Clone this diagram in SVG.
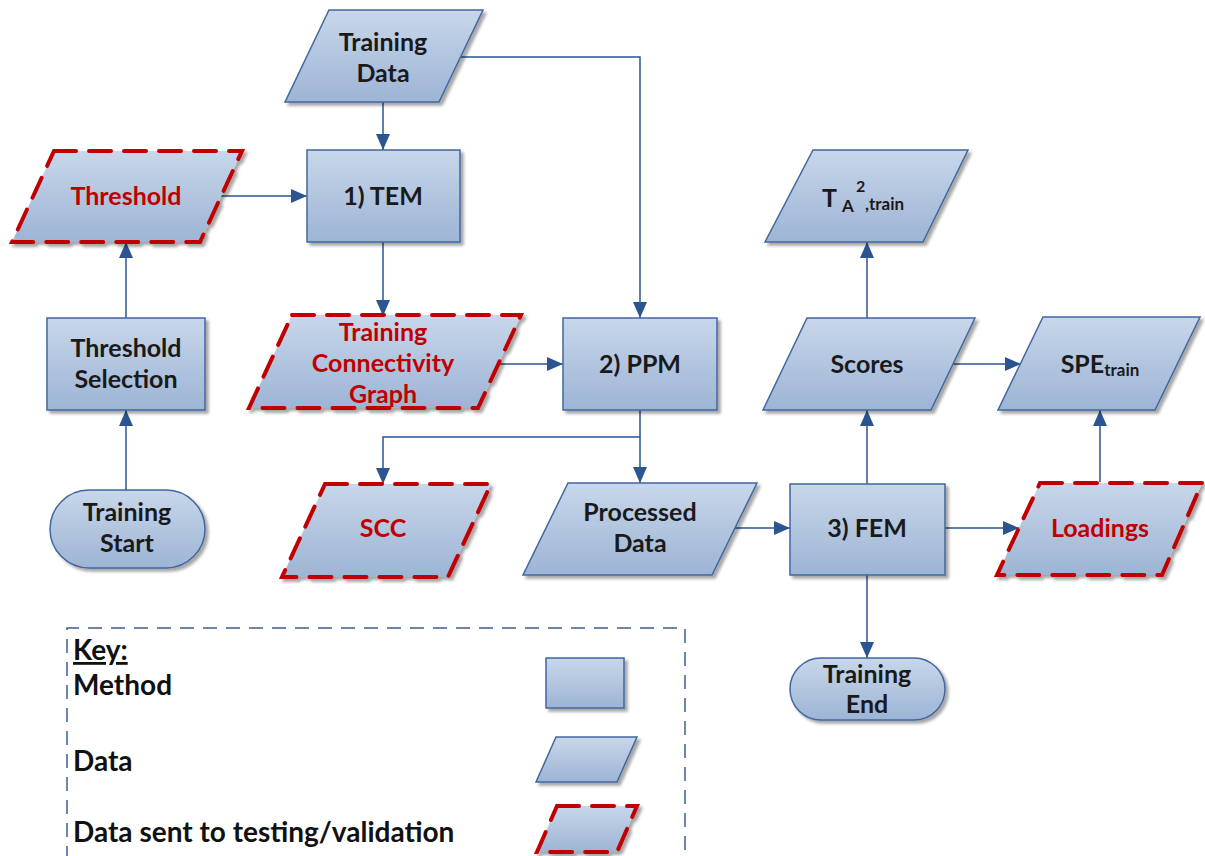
<svg xmlns="http://www.w3.org/2000/svg" width="1205" height="856" viewBox="0 0 1205 856">
  <defs>
    <linearGradient id="fillGrad" x1="0" y1="0" x2="0" y2="1">
      <stop offset="0" stop-color="#c8d7ea"/>
      <stop offset="1" stop-color="#9db4d5"/>
    </linearGradient>
    <filter id="shadow" x="-10%" y="-10%" width="125%" height="130%">
      <feDropShadow dx="3" dy="3" stdDeviation="1.5" flood-color="#000" flood-opacity="0.35"/>
    </filter>
    <marker id="arrow" viewBox="0 0 16 14" refX="16" refY="7" markerWidth="16" markerHeight="14" markerUnits="userSpaceOnUse" orient="auto">
      <path d="M0,0 L16,7 L0,14 Z" fill="#2a5590"/>
    </marker>
  </defs>
  <style>
    .shape { fill: url(#fillGrad); stroke: #41679e; stroke-width: 1.5; filter: url(#shadow); }
    .sent { fill: url(#fillGrad); stroke: #c00000; stroke-width: 4; stroke-dasharray: 22 13; stroke-linecap: round; filter: url(#shadow); }
    .lbl { font-family: Lato, "Liberation Sans", sans-serif; font-weight: bold; font-size: 25px; fill: #1a1a1a; text-anchor: middle; }
    .red { fill: #c00000; }
    .start { text-anchor: start; }
    .key { font-family: Lato, "Liberation Sans", sans-serif; font-weight: bold; font-size: 28px; fill: #111; }
    .conn { fill: none; stroke: #2a5590; stroke-width: 1.5; }
  </style>
  <rect width="1205" height="856" fill="#ffffff"/>

  <!-- connectors -->
  <g id="connectors">
    <path class="conn" d="M383,102 V150" marker-end="url(#arrow)"/>
    <path class="conn" d="M461,57 H640 V318" marker-end="url(#arrow)"/>
    <path class="conn" d="M221,196 H307" marker-end="url(#arrow)"/>
    <path class="conn" d="M126,318 V242" marker-end="url(#arrow)"/>
    <path class="conn" d="M126,490 V410" marker-end="url(#arrow)"/>
    <path class="conn" d="M383,242 V316" marker-end="url(#arrow)"/>
    <path class="conn" d="M499,364 H563" marker-end="url(#arrow)"/>
    <path class="conn" d="M640,410 V437 H383 V484" marker-end="url(#arrow)"/>
    <path class="conn" d="M640,437 V483" marker-end="url(#arrow)"/>
    <path class="conn" d="M735,528 H790" marker-end="url(#arrow)"/>
    <path class="conn" d="M867,484 V410" marker-end="url(#arrow)"/>
    <path class="conn" d="M867,318 V242" marker-end="url(#arrow)"/>
    <path class="conn" d="M952,364 H1021" marker-end="url(#arrow)"/>
    <path class="conn" d="M945,528 H1019" marker-end="url(#arrow)"/>
    <path class="conn" d="M1100,482 V410" marker-end="url(#arrow)"/>
    <path class="conn" d="M867,575 V658" marker-end="url(#arrow)"/>
  </g>

  <g id="training-data">
    <polygon class="shape" points="329,10 483,10 439,102 285,102"/>
    <text class="lbl" x="383" y="51">Training</text>
    <text class="lbl" x="383" y="82">Data</text>
  </g>

  <g id="tem">
    <rect class="shape" x="307" y="150" width="153" height="92"/>
    <text class="lbl" x="383" y="205">1) TEM</text>
  </g>

  <g id="threshold">
    <polygon class="sent" points="54,151 242,151 200,242 12,242"/>
    <text class="lbl red" x="126" y="205">Threshold</text>
  </g>

  <g id="threshold-selection">
    <rect class="shape" x="47" y="318" width="158" height="92"/>
    <text class="lbl" x="126" y="357">Threshold</text>
    <text class="lbl" x="126" y="388">Selection</text>
  </g>

  <g id="training-start">
    <rect class="shape" x="50" y="490" width="155" height="78" rx="39" ry="39"/>
    <text class="lbl" x="127" y="521">Training</text>
    <text class="lbl" x="127" y="552">Start</text>
  </g>

  <g id="training-connectivity-graph">
    <polygon class="sent" points="292,315 521,315 478,408 249,408"/>
    <text class="lbl red" x="383" y="341">Training</text>
    <text class="lbl red" x="383" y="372">Connectivity</text>
    <text class="lbl red" x="383" y="403">Graph</text>
  </g>

  <g id="ppm">
    <rect class="shape" x="563" y="318" width="154" height="92"/>
    <text class="lbl" x="640" y="373">2) PPM</text>
  </g>

  <g id="scc">
    <polygon class="sent" points="325,484 491,484 448,577 282,577"/>
    <text class="lbl red" x="383" y="537">SCC</text>
  </g>

  <g id="processed-data">
    <polygon class="shape" points="568,483 757,483 712,575 523,575"/>
    <text class="lbl" x="640" y="521">Processed</text>
    <text class="lbl" x="640" y="552">Data</text>
  </g>

  <g id="fem">
    <rect class="shape" x="790" y="484" width="155" height="91"/>
    <text class="lbl" x="867" y="537">3) FEM</text>
  </g>

  <g id="loadings">
    <polygon class="sent" points="1040,483 1202,483 1162,575 997,575"/>
    <text class="lbl red" x="1100" y="537">Loadings</text>
  </g>

  <g id="scores">
    <polygon class="shape" points="807,318 975,318 931,410 763,410"/>
    <text class="lbl" x="867" y="373">Scores</text>
  </g>

  <g id="spe-train">
    <polygon class="shape" points="1043,317 1200,317 1155,410 998,410"/>
    <text class="lbl" x="1100" y="373">SPE<tspan font-size="17px" dy="3">train</tspan></text>
  </g>

  <g id="t2-train">
    <polygon class="shape" points="813,150 968,150 923,242 765,242"/>
    <text class="lbl start" x="822" y="207">T<tspan font-size="17px" x="842" dy="5">A</tspan><tspan font-size="16px" x="856" dy="-20">2</tspan><tspan font-size="17px" x="865" dy="18">,train</tspan></text>
  </g>

  <g id="training-end">
    <rect class="shape" x="790" y="658" width="155" height="62" rx="31" ry="31"/>
    <text class="lbl" x="867" y="683">Training</text>
    <text class="lbl" x="867" y="713">End</text>
  </g>

  <g id="key">
    <path d="M67,860 V628 H685 V860" fill="none" stroke="#3c5f8f" stroke-width="1.5" stroke-dasharray="14 9"/>
    <text class="key" x="73" y="660" text-decoration="underline">Key:</text>
    <text class="key" x="73" y="695">Method</text>
    <text class="key" x="73" y="771">Data</text>
    <text class="key" x="73" y="842">Data sent to testing/validation</text>
    <rect class="shape" x="546" y="658" width="78" height="50"/>
    <polygon class="shape" points="556,737 637,737 617,782 536,782"/>
    <polygon class="sent" points="557,806 637,806 617,852 537,852"/>
  </g>
</svg>
